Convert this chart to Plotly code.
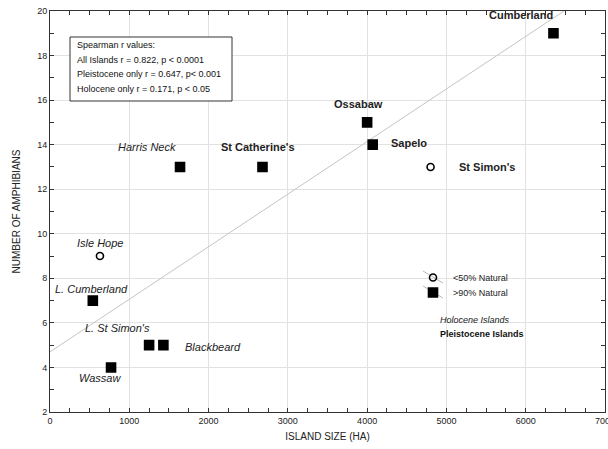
import plotly.graph_objects as go

# Island data
islands = ["Cumberland", "Ossabaw", "Sapelo", "St Simon's", "St Catherine's",
           "Harris Neck", "Isle Hope", "L. Cumberland", "L. St Simon's",
           "Blackbeard", "Wassaw"]
island_size_ha = [6350, 4000, 4070, 4800, 2680, 1640, 630, 540, 1250, 1430, 770]
amphibians = [19, 15, 14, 13, 13, 13, 9, 7, 5, 5, 4]
natural_gt90 = [True, True, True, False, True, True, False, True, True, True, True]
island_age = ["Pleistocene", "Pleistocene", "Pleistocene", "Pleistocene", "Pleistocene",
              "Holocene", "Holocene", "Holocene", "Holocene", "Holocene", "Holocene"]

# Fitted regression line (intercept, slope)
fit_intercept = 4.7
fit_slope = 0.00236

stats_lines = [
    "Spearman r values:",
    "All Islands r = 0.822, p < 0.0001",
    "Pleistocene only r = 0.647, p< 0.001",
    "Holocene only r = 0.171, p < 0.05",
]

# Label offsets in pixels (dx, dy; dy positive = up)
label_offsets = {
    "Cumberland": (-32, 18), "Ossabaw": (-9, 18), "Sapelo": (36, 2),
    "St Simon's": (56, 0), "St Catherine's": (-4, 20), "Harris Neck": (-33, 20),
    "Isle Hope": (0, 13), "L. Cumberland": (-1, 12), "L. St Simon's": (-32, 17),
    "Blackbeard": (50, -2), "Wassaw": (-11, -11),
}

FONT = "Liberation Sans, Arial, sans-serif"

W, H = 608, 449
L, R, T, B = 50, 3, 11, 37
pw, ph = W - L - R, H - T - B


def px(xp):
    return (xp - L) / pw


def py(yp):
    return 1 - (yp - T) / ph


fig = go.Figure()

fx = [0, 7000]
fig.add_trace(go.Scatter(
    x=fx, y=[fit_intercept + fit_slope * v for v in fx], mode="lines",
    line=dict(color="#c4c4c4", width=1), showlegend=False, hoverinfo="skip"))

for flag, name, symbol, size, legend_id in [
        (False, "<50% Natural", "circle-open", 7, "legend"),
        (True, ">90% Natural", "square", 9, "legend2")]:
    xs = [x for x, n in zip(island_size_ha, natural_gt90) if n == flag]
    ys = [y for y, n in zip(amphibians, natural_gt90) if n == flag]
    fig.add_trace(go.Scatter(
        x=xs, y=ys, mode="markers", name=name, legend=legend_id,
        marker=dict(symbol=symbol, size=size, color="black",
                    line=dict(color="black", width=1.6))))

annotations = []
for name, x, y, age in zip(islands, island_size_ha, amphibians, island_age):
    dx, dy = label_offsets[name]
    txt = f"<b>{name}</b>" if age == "Pleistocene" else f"<i>{name}</i>"
    annotations.append(dict(
        x=x, y=y, xref="x", yref="y", text=txt, showarrow=False,
        xshift=dx, yshift=dy, font=dict(family=FONT, size=11, color="#222")))

# Statistics box
for line, yp in zip(stats_lines, [45, 60, 74, 89]):
    annotations.append(dict(
        x=px(75), y=py(yp), xref="paper", yref="paper", text=line, showarrow=False,
        xanchor="left", yanchor="middle", font=dict(family=FONT, size=9, color="#111")))

# Key captions for island age
annotations.append(dict(x=px(438), y=py(320), xref="paper", yref="paper",
                        text="<i>Holocene Islands</i>", showarrow=False,
                        xanchor="left", yanchor="middle",
                        font=dict(family=FONT, size=9, color="#222")))
annotations.append(dict(x=px(438), y=py(334), xref="paper", yref="paper",
                        text="<b>Pleistocene Islands</b>", showarrow=False,
                        xanchor="left", yanchor="middle",
                        font=dict(family=FONT, size=9, color="#111")))

shapes = [
    dict(type="rect", xref="paper", yref="paper", x0=px(70), x1=px(232), y0=py(37), y1=py(101),
         line=dict(color="#333", width=1), fillcolor="white", layer="above"),
    dict(type="line", xref="paper", yref="paper", x0=px(423), y0=py(271), x1=px(443), y1=py(283),
         line=dict(color="#bbb", width=1)),
    dict(type="line", xref="paper", yref="paper", x0=px(423), y0=py(286), x1=px(443), y1=py(298),
         line=dict(color="#bbb", width=1)),
]

axis_common = dict(
    showline=True, linecolor="#333", linewidth=1, mirror="allticks",
    ticks="inside", ticklen=4, tickcolor="#333",
    showgrid=True, gridcolor="#e2e2e2", gridwidth=1, zeroline=False,
    ticklabeloverflow="allow",
    tickfont=dict(family=FONT, size=9, color="#222"),
)

legend_common = dict(xanchor="left", yanchor="top", bgcolor="rgba(0,0,0,0)",
                     font=dict(family=FONT, size=9, color="#222"), itemwidth=30)

fig.update_layout(
    width=W, height=H,
    margin=dict(l=L, r=R, t=T, b=B, autoexpand=False),
    paper_bgcolor="white", plot_bgcolor="white",
    xaxis=dict(range=[0, 7000], dtick=1000, automargin=False,
               minor=dict(dtick=250, ticks="inside", ticklen=4, tickcolor="#333", showgrid=False),
               title=dict(text="ISLAND SIZE (HA)", standoff=8,
                          font=dict(family=FONT, size=10, color="#222")),
               **axis_common),
    yaxis=dict(range=[2, 20], dtick=2, automargin=False,
               minor=dict(dtick=1, ticks="inside", ticklen=4, tickcolor="#333", showgrid=False),
               title=dict(text="NUMBER OF AMPHIBIANS", standoff=14,
                          font=dict(family=FONT, size=10, color="#222")),
               **axis_common),
    legend=dict(x=px(413), y=py(263), **legend_common),
    legend2=dict(x=px(413), y=py(278), **legend_common),
    annotations=annotations,
    shapes=shapes,
)

fig.write_html("out.html")
